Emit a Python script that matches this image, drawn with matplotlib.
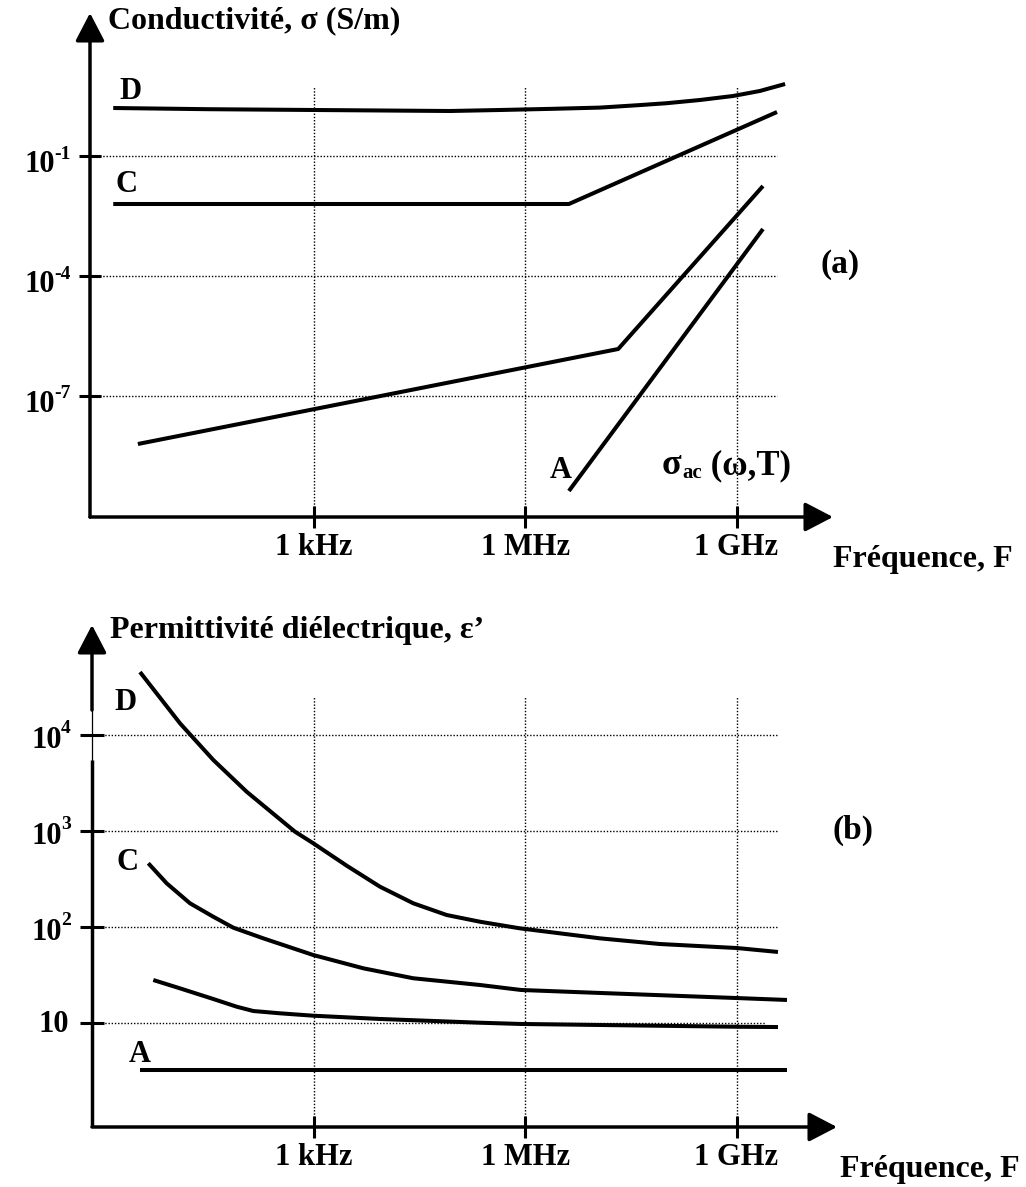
import matplotlib
matplotlib.use('Agg')
import matplotlib.pyplot as plt
from matplotlib.ticker import NullLocator
import numpy as np

plt.rcParams['font.family'] = 'Liberation Serif'
plt.rcParams['font.weight'] = 'bold'

# --- (a) conductivity: log10 f (Hz), log10 sigma (S/m) ---
sig_D_f = np.array([0.15, 1.5, 3.01, 4.93, 5.64, 6.4, 7.06, 7.6, 8.01, 8.48,
                    8.95, 9.33, 9.69])
sig_D_s = np.array([0.20, 0.17, 0.15, 0.125, 0.15, 0.18, 0.21, 0.27, 0.32,
                    0.40, 0.50, 0.625, 0.80])
sig_C_f = np.array([0.15, 6.62, 9.575])
sig_C_s = np.array([-2.2, -2.2, 0.10])
sig_B_f = np.array([0.50, 7.32, 9.376])
sig_B_s = np.array([-8.2, -5.825, -1.75])
sig_A_f = np.array([6.62, 9.376])
sig_A_s = np.array([-9.375, -2.825])

# --- (b) permittivity: log10 f (Hz), log10 eps' ---
eps_D_f = np.array([0.529, 1.097, 1.570, 2.044, 2.730, 2.990, 3.464, 3.937,
                    4.410, 4.884, 5.357, 5.925, 7.061, 7.910, 9.007, 9.589])
eps_D_e = np.array([4.656, 4.122, 3.740, 3.409, 2.993, 2.872, 2.639, 2.420,
                    2.247, 2.125, 2.055, 1.986, 1.882, 1.823, 1.781, 1.740])
eps_C_f = np.array([0.647, 0.908, 1.239, 1.570, 1.854, 2.280, 2.990, 3.700,
                    4.410, 5.357, 5.940, 7.061, 9.007, 9.717])
eps_C_e = np.array([2.664, 2.455, 2.247, 2.107, 1.993, 1.882, 1.708, 1.570,
                    1.466, 1.396, 1.344, 1.313, 1.260, 1.240])
eps_B_f = np.array([0.718, 1.097, 1.570, 1.902, 2.138, 2.517, 2.990, 3.937,
                    5.357, 5.940, 9.007, 9.589])
eps_B_e = np.array([1.448, 1.361, 1.250, 1.170, 1.125, 1.101, 1.076, 1.042,
                    1.003, 0.990, 0.961, 0.958])
eps_A_f = np.array([0.53, 9.72])
eps_A_e = np.array([0.51, 0.51])

freq_ticks = [1e3, 1e6, 1e9]
freq_labels = ['1 kHz', '1 MHz', '1 GHz']
sig_ticks = [-1, -4, -7]
eps_ticks = [4, 3, 2, 1]

W, H = 1026, 1187
fig = plt.figure(figsize=(W / 100, H / 100), dpi=100)

LW_AX = 2.5
LW_CURVE = 2.9
GRID = dict(color='black', lw=1.0, ls=(0, (1, 1.3)))
FS = 22
FS_TITLE = 23


def setup(ax, xlim, ylim):
    ax.set_xscale('log')
    ax.set_yscale('log')
    ax.set_xlim(10 ** xlim[0], 10 ** xlim[1])
    ax.set_ylim(10 ** ylim[0], 10 ** ylim[1])
    for s in ax.spines.values():
        s.set_visible(False)
    ax.patch.set_visible(False)
    ax.xaxis.set_minor_locator(NullLocator())
    ax.yaxis.set_minor_locator(NullLocator())
    ax.set_xticks(freq_ticks)
    ax.set_xticklabels(freq_labels, fontsize=FS, fontweight='bold')
    ax.tick_params(axis='both', direction='inout', length=16.5, width=2.2,
                   color='black', pad=3)


def arrow(ax, start, end):
    ax.annotate('', xy=end, xytext=start,
                xycoords=('axes fraction', 'data'),
                arrowprops=dict(arrowstyle='-|>,head_length=0.865,head_width=0.45',
                                lw=LW_AX, color='black', shrinkA=0, shrinkB=0,
                                mutation_scale=20))


def ylabel_pow(ax, val, base, sup, dx, dy, sdy):
    ax.annotate(base, xy=(0, val), xycoords=('axes fraction', 'data'),
                xytext=(dx, dy), textcoords='offset pixels',
                ha='right', va='center', fontsize=FS)
    if sup:
        ax.annotate(sup, xy=(0, val), xycoords=('axes fraction', 'data'),
                    xytext=(dx - 1, sdy), textcoords='offset pixels',
                    ha='left', va='center', fontsize=14)


# ---------------- (a) conductivity ----------------
ax1 = fig.add_axes([90 / W, 1 - 517 / H, 743 / W, 504 / H])
x1 = (-0.18, 10.37)
y1 = (-10.025, 2.575)
setup(ax1, x1, y1)
ax1.set_yticks([10.0 ** t for t in sig_ticks])
ax1.set_yticklabels([])

for f in freq_ticks:
    ax1.plot([f, f], [10 ** y1[0], 10 ** 0.75], **GRID)
for t in sig_ticks:
    ax1.plot([10 ** x1[0], 10 ** 9.575], [10.0 ** t] * 2, **GRID)

for fx, sy in [(sig_D_f, sig_D_s), (sig_C_f, sig_C_s),
               (sig_B_f, sig_B_s), (sig_A_f, sig_A_s)]:
    ax1.plot(10 ** fx, 10 ** sy, color='black', lw=LW_CURVE,
             solid_capstyle='butt', solid_joinstyle='round')

arrow(ax1, (0, 10 ** y1[0]), (1, 10 ** y1[0]))
ax1.annotate('', xy=(0, 1), xytext=(0, 0), xycoords='axes fraction',
             arrowprops=dict(arrowstyle='-|>,head_length=0.865,head_width=0.45',
                             lw=LW_AX, color='black', shrinkA=0, shrinkB=0,
                             mutation_scale=20))

for t in sig_ticks:
    ylabel_pow(ax1, 10.0 ** t, '10', str(t), -35, -8, 2)

ax1.text(10 ** 0.075, 10 ** 2.38, 'Conductivité, σ (S/m)', fontsize=FS_TITLE,
         ha='left', va='center')
ax1.text(10 ** 0.40, 10 ** 0.62, 'D', fontsize=FS, ha='center', va='center')
ax1.text(10 ** 0.345, 10 ** -1.7, 'C', fontsize=FS, ha='center', va='center')
ax1.text(10 ** 6.51, 10 ** -8.85, 'A', fontsize=FS, ha='center', va='center')
s0 = ax1.text(10 ** 7.94, 10 ** -8.95, 'σ', fontsize=26, ha='left',
              va='baseline')
s1 = ax1.annotate('ac', xy=(1, 0), xycoords=s0, xytext=(1, 4),
                  textcoords='offset pixels', fontsize=15, ha='left',
                  va='baseline')
ax1.annotate(' (ω,T)', xy=(1, 0), xycoords=s1, xytext=(0, 9),
             textcoords='offset pixels', fontsize=25, ha='left',
             va='baseline')
ax1.text(10 ** 10.47, 10 ** -3.7, '(a)', fontsize=24, ha='center',
         va='center')
ax1.text(10 ** 10.37, 10 ** -11.1, 'Fréquence, F', fontsize=FS_TITLE,
         ha='left', va='center')

# ---------------- (b) permittivity ----------------
ax2 = fig.add_axes([92 / W, 1 - 1127 / H, 745 / W, 502 / H])
x2 = (-0.1525, 10.427)
y2 = (-0.0833, 5.146)
setup(ax2, x2, y2)
ax2.set_yticks([10.0 ** t for t in eps_ticks])
ax2.set_yticklabels([])
ax2.tick_params(axis='y', length=17.5)

for f in freq_ticks:
    ax2.plot([f, f], [10 ** y2[0], 10 ** 4.41], **GRID)
for t in eps_ticks:
    xend = 9.40 if t == 1 else 9.59
    ax2.plot([10 ** x2[0], 10 ** xend], [10.0 ** t] * 2, **GRID)

for fx, ey in [(eps_D_f, eps_D_e), (eps_C_f, eps_C_e),
               (eps_B_f, eps_B_e), (eps_A_f, eps_A_e)]:
    ax2.plot(10 ** fx, 10 ** ey, color='black', lw=LW_CURVE,
             solid_capstyle='butt', solid_joinstyle='round')

arrow(ax2, (0, 10 ** y2[0]), (1, 10 ** y2[0]))
# y axis: thick, thin around 10^4, then thick with arrow head
yax = ax2.get_yaxis_transform()
ax2.plot([0, 0], [10 ** y2[0], 10 ** 3.74], color='black', lw=LW_AX,
         transform=yax, clip_on=False, solid_capstyle='butt')
ax2.plot([0, 0], [10 ** 3.74, 10 ** 4.26], color='black', lw=0.9,
         transform=yax, clip_on=False)
arrow(ax2, (0, 10 ** 4.26), (0, 10 ** y2[1]))

for t in eps_ticks:
    if t == 1:
        ylabel_pow(ax2, 10.0 ** t, '10', '', -23, -1, 0)
    else:
        ylabel_pow(ax2, 10.0 ** t, '10', str(t), -30, -5, 7)

ax2.text(10 ** 0.10, 10 ** 5.09, 'Permittivité diélectrique, ε’',
         fontsize=FS_TITLE, ha='left', va='center')
ax2.text(10 ** 0.33, 10 ** 4.34, 'D', fontsize=FS, ha='center', va='center')
ax2.text(10 ** 0.345, 10 ** 2.677, 'C', fontsize=FS, ha='center', va='center')
ax2.text(10 ** 0.53, 10 ** 0.667, 'A', fontsize=FS, ha='center', va='center')
ax2.text(10 ** 10.65, 10 ** 3.01, '(b)', fontsize=24, ha='center',
         va='center')
ax2.text(10 ** 10.47, 10 ** -0.53, 'Fréquence, F', fontsize=FS_TITLE,
         ha='left', va='center')

fig.savefig('out.png', dpi=100)
